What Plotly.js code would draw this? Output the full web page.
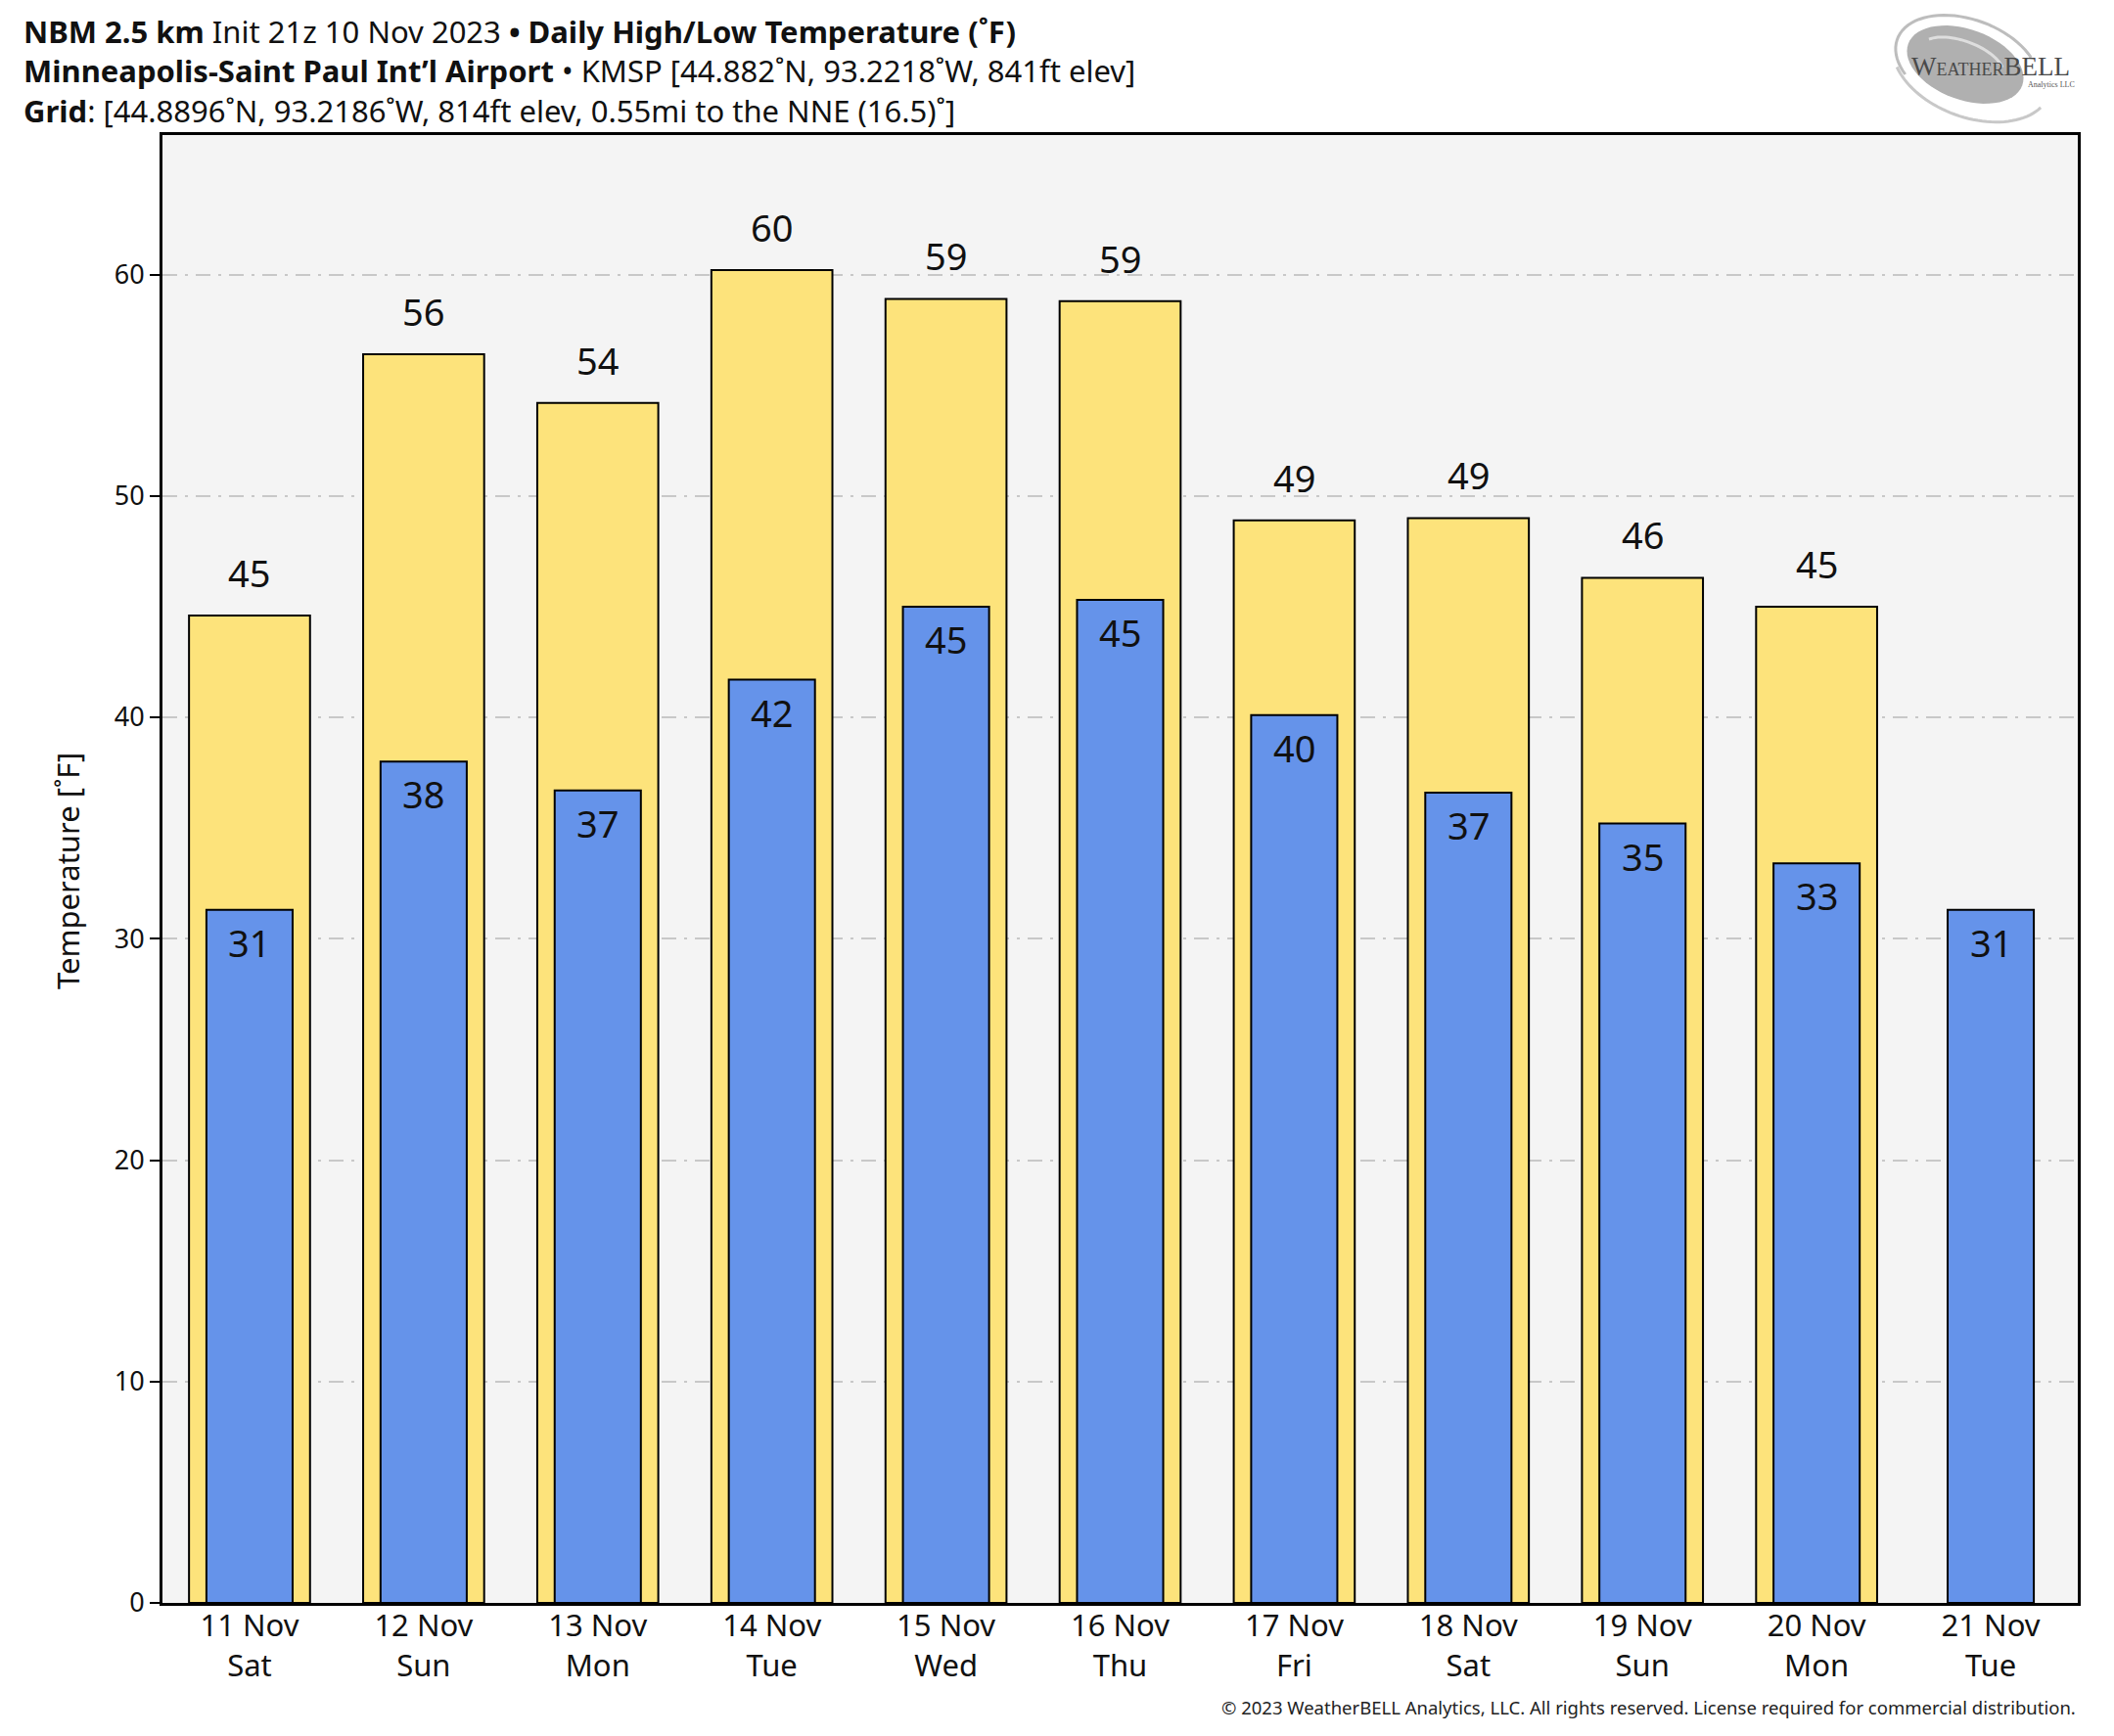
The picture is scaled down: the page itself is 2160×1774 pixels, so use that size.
<!DOCTYPE html>
<html>
<head>
<meta charset="utf-8">
<script src="https://cdn.plot.ly/plotly-3.0.1.min.js"></script>
<style>
  html, body { margin: 0; padding: 0; background: #ffffff; }
  #chart { width: 2160px; height: 1774px; }
</style>
</head>
<body>
<div id="chart"></div>
<script>
// ---- data ----
const dates = ['11 Nov', '12 Nov', '13 Nov', '14 Nov', '15 Nov', '16 Nov', '17 Nov', '18 Nov', '19 Nov', '20 Nov', '21 Nov'];
const days  = ['Sat', 'Sun', 'Mon', 'Tue', 'Wed', 'Thu', 'Fri', 'Sat', 'Sun', 'Mon', 'Tue'];
const highs = [44.6, 56.4, 54.2, 60.2, 58.9, 58.8, 48.9, 49.0, 46.3, 45.0, null];
const lows  = [31.3, 38.0, 36.7, 41.7, 45.0, 45.3, 40.1, 36.6, 35.2, 33.4, 31.3];
const yTicks = [0, 10, 20, 30, 40, 50, 60];

const titleLine1 = '<b>NBM 2.5 km</b> Init 21z 10 Nov 2023 <b>\u2022 Daily High/Low Temperature (\u02daF)</b>';
const titleLine2 = '<b>Minneapolis-Saint Paul Int\u2019l Airport</b> \u2022 KMSP [44.882\u02daN, 93.2218\u02daW, 841ft elev]';
const titleLine3 = '<b>Grid</b>: [44.8896\u02daN, 93.2186\u02daW, 814ft elev, 0.55mi to the NNE (16.5)\u02da]';
const copyright = '\u00a9 2023 WeatherBELL Analytics, LLC. All rights reserved. License required for commercial distribution.';

// ---- layout geometry (pixels) ----
const W = 2160, H = 1774;
const M = { l: 166, r: 37, t: 138, b: 136 };
const PW = W - M.l - M.r, PH = H - M.t - M.b;
const px = x => (x - M.l) / PW;
const py = y => (H - M.b - y) / PH;

const cats = dates.map((d, i) => d + '<br>' + days[i]);
const FONT = 'Noto Sans, Open Sans, DejaVu Sans, sans-serif';

const highTrace = {
  type: 'bar', x: cats, y: highs, width: 0.695,
  marker: { color: '#fde37b', line: { color: '#000000', width: 2 } },
  hoverinfo: 'skip', showlegend: false
};
const lowTrace = {
  type: 'bar', x: cats, y: lows, width: 0.495,
  marker: { color: '#6593ea', line: { color: '#000000', width: 2 } },
  hoverinfo: 'skip', showlegend: false
};

const annotations = [];
highs.forEach((v, i) => {
  if (v === null) return;
  annotations.push({ x: cats[i], y: v, xref: 'x', yref: 'y', text: String(Math.round(v)),
    showarrow: false, yanchor: 'middle', yshift: 44, font: { family: FONT, size: 38, color: '#111' } });
});
lows.forEach((v, i) => {
  annotations.push({ x: cats[i], y: v, xref: 'x', yref: 'y', text: String(Math.round(v)),
    showarrow: false, yanchor: 'middle', yshift: -33, font: { family: FONT, size: 38, color: '#111' } });
});
// title block (three lines in one text)
annotations.push({ x: px(22), y: py(9), xref: 'paper', yref: 'paper',
  text: [titleLine1, titleLine2, titleLine3].join('<br>'), showarrow: false, align: 'left',
  xanchor: 'left', yanchor: 'top', font: { family: FONT, size: 31, color: '#111' } });
// y-axis title
annotations.push({ x: px(69), y: py(890), xref: 'paper', yref: 'paper', text: 'Temperature [\u02daF]',
  textangle: -90, showarrow: false, xanchor: 'center', yanchor: 'middle',
  font: { family: FONT, size: 31, color: '#111' } });
// copyright
annotations.push({ x: px(2123), y: py(1745), xref: 'paper', yref: 'paper', text: copyright, showarrow: false,
  xanchor: 'right', yanchor: 'middle', font: { family: FONT, size: 18.5, color: '#222' } });
// logo text
annotations.push({ x: px(2034), y: py(68), xref: 'paper', yref: 'paper',
  text: 'W<span style="font-size:18px">EATHER</span>BELL', showarrow: false,
  xanchor: 'center', yanchor: 'middle', font: { family: 'Liberation Serif, DejaVu Serif, serif', size: 27, color: '#4a4a4a' } });
annotations.push({ x: px(2122), y: py(86), xref: 'paper', yref: 'paper',
  text: 'Analytics LLC', showarrow: false, xanchor: 'right', yanchor: 'middle',
  font: { family: 'Liberation Serif, DejaVu Serif, serif', size: 8, color: '#555' } });

// logo swirl shapes (decoration)
function ellipsePath(cx, cy, rx, ry, rot, a0, a1, n) {
  const pts = [];
  for (let k = 0; k <= n; k++) {
    const a = a0 + (a1 - a0) * k / n;
    const ex = rx * Math.cos(a), ey = ry * Math.sin(a);
    const x = cx + ex * Math.cos(rot) - ey * Math.sin(rot);
    const y = cy + ex * Math.sin(rot) + ey * Math.cos(rot);
    pts.push(px(x).toFixed(5) + ',' + py(y).toFixed(5));
  }
  return 'M' + pts.join(' L');
}
const shapes = [
  { type: 'path', xref: 'paper', yref: 'paper', path: ellipsePath(2008, 66, 62, 36, 0.35, 0, 2 * Math.PI, 60) + ' Z',
    fillcolor: '#b0b0b0', line: { width: 0 }, layer: 'above' },
  { type: 'path', xref: 'paper', yref: 'paper', path: ellipsePath(2010, 66, 76, 46, 0.35, 2.4, 5.6, 40),
    line: { color: '#bdbdbd', width: 3 }, layer: 'above' },
  { type: 'path', xref: 'paper', yref: 'paper', path: ellipsePath(2015, 68, 84, 52, 0.35, 0.3, 2.6, 40),
    line: { color: '#c8c8c8', width: 3 }, layer: 'above' },
  { type: 'path', xref: 'paper', yref: 'paper', path: ellipsePath(2005, 62, 44, 20, 0.35, 3.6, 5.9, 30),
    line: { color: '#dedede', width: 3 }, layer: 'above' }
];

const layout = {
  width: W, height: H,
  margin: M,
  paper_bgcolor: '#ffffff',
  plot_bgcolor: '#f4f4f4',
  barmode: 'overlay',
  showlegend: false,
  font: { family: FONT, color: '#111' },
  xaxis: {
    type: 'category', range: [-0.5, 10.5], fixedrange: true,
    showline: true, linecolor: '#000', linewidth: 3, mirror: true,
    ticks: '', showgrid: false, zeroline: false, ticklabelstandoff: -6,
    tickfont: { family: FONT, size: 31, color: '#111' }
  },
  yaxis: {
    range: [0, 66.3], tickvals: yTicks, ticktext: yTicks.map(String),
    showline: true, linecolor: '#000', linewidth: 3, mirror: true,
    ticks: 'outside', ticklen: 10, tickwidth: 2, tickcolor: '#000',
    showgrid: true, gridcolor: '#c8c8c8', gridwidth: 2, griddash: '15px,8px,3px,8px',
    zeroline: false,
    tickfont: { family: FONT, size: 27, color: '#111' }
  },
  annotations: annotations,
  shapes: shapes
};

Plotly.newPlot('chart', [highTrace, lowTrace], layout, { displayModeBar: false, staticPlot: true });
</script>
</body>
</html>
